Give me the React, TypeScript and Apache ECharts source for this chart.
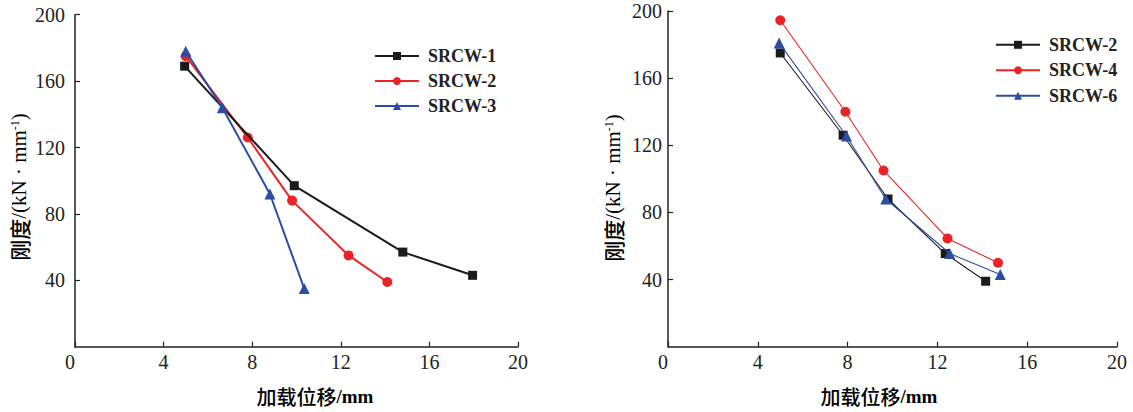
import React, { useEffect, useRef } from "react";
import * as echarts from "echarts";

// ---- data ----
const xTickLabels = ["0", "4", "8", "12", "16", "20"];
const yTickLabels = ["0", "40", "80", "120", "160", "200"];

const leftNames = ["SRCW-1", "SRCW-2", "SRCW-3"];
const srcw1L: number[][] = [[4.95, 169], [9.9, 97], [14.8, 57], [17.95, 43]];
const srcw2L: number[][] = [[5.0, 175], [7.8, 126], [9.8, 88], [12.35, 55], [14.1, 39]];
const srcw3L: number[][] = [[5.0, 178], [6.65, 144], [8.8, 92], [10.35, 35]];

const rightNames = ["SRCW-2", "SRCW-4", "SRCW-6"];
const srcw2R: number[][] = [[5.0, 175], [7.8, 126], [9.8, 88], [12.35, 55.5], [14.15, 39]];
const srcw4R: number[][] = [[5.0, 194.5], [7.9, 140], [9.6, 105], [12.45, 64.5], [14.7, 50]];
const srcw6R: number[][] = [[4.95, 181], [7.95, 125.5], [9.7, 88], [12.55, 55.5], [14.8, 43]];

const BLACK = "#1b1b1b";
const RED = "#ec2227";
const BLUE = "#2c4da3";
const SERIF = '"Liberation Serif", "Times New Roman", serif';
const CJK = '"Noto Sans CJK SC", "Liberation Serif", serif';

function xAxisCfg() {
  return {
    type: "value",
    min: 0,
    max: 20,
    interval: 4,
    axisLine: { show: true, onZero: false, lineStyle: { color: "#222", width: 1.5 } },
    axisTick: { show: true, inside: true, length: 5, lineStyle: { color: "#222", width: 1.2 } },
    splitLine: { show: false },
    axisLabel: {
      margin: 5,
      fontFamily: SERIF,
      fontSize: 20,
      color: "#222",
      alignMinLabel: "right",
      formatter: (v: number) => xTickLabels[Math.round(v / 4)] ?? String(v),
    },
  };
}

function yAxisCfg(margin: number) {
  return {
    type: "value",
    min: 0,
    max: 200,
    interval: 40,
    axisLine: { show: true, onZero: false, lineStyle: { color: "#222", width: 1.5 } },
    axisTick: { show: true, inside: true, length: 5, lineStyle: { color: "#222", width: 1.2 } },
    splitLine: { show: false },
    axisLabel: {
      margin,
      showMinLabel: false,
      fontFamily: SERIF,
      fontSize: 20,
      color: "#222",
      formatter: (v: number) => yTickLabels[Math.round(v / 40)] ?? String(v),
    },
  };
}

function line(name: string, data: number[][], color: string, symbol: string, size: number, width: number, z: number) {
  return {
    type: "line",
    name,
    data,
    symbol,
    symbolSize: size,
    showSymbol: true,
    lineStyle: { color, width },
    itemStyle: { color },
    z,
  };
}

function nameGraphics(xx: number, xy: number, yx: number, yy: number) {
  return [
    {
      type: "text",
      x: xx,
      y: xy,
      style: {
        text: "{c|加载位移}{l|/mm}",
        align: "center",
        verticalAlign: "middle",
        rich: {
          c: { fontFamily: CJK, fontSize: 20, fontWeight: 500, color: "#222" },
          l: { fontFamily: SERIF, fontSize: 19, fontWeight: "bold", color: "#222" },
        },
      },
    },
    {
      type: "text",
      x: yx,
      y: yy,
      rotation: Math.PI / 2,
      style: {
        text: "{c|刚度}{a|/(kN · mm}{s|-1}{a|)}",
        align: "center",
        verticalAlign: "middle",
        rich: {
          c: { fontFamily: CJK, fontSize: 21, fontWeight: 500, color: "#222" },
          a: { fontFamily: SERIF, fontSize: 21, color: "#222" },
          s: { fontFamily: SERIF, fontSize: 12, color: "#222", verticalAlign: "top" },
        },
      },
    },
  ];
}

function legendCfg(names: string[], left: number, top: number, gap: number) {
  return {
    orient: "vertical",
    left,
    top,
    padding: 0,
    itemWidth: 44,
    itemHeight: 10,
    itemGap: gap,
    textStyle: {
      fontFamily: SERIF,
      fontSize: 18,
      fontWeight: "bold",
      color: "#222",
      lineHeight: 17,
      padding: [0, 0, 0, 4],
    },
    data: names,
  };
}

export default function App() {
  const leftRef = useRef<HTMLDivElement>(null);
  const rightRef = useRef<HTMLDivElement>(null);

  useEffect(() => {
    document.body.style.margin = "0";
    const lc = echarts.init(leftRef.current!, null, { renderer: "svg" });
    const rc = echarts.init(rightRef.current!, null, { renderer: "svg" });

    lc.setOption({
      animation: false,
      backgroundColor: "#fff",
      grid: { left: 75, right: 48, top: 14.7, bottom: 65.3, containLabel: false },
      xAxis: xAxisCfg(),
      yAxis: yAxisCfg(10),
      legend: legendCfg(leftNames, 374, 47, 7),
      series: [
        line(leftNames[0], srcw1L, BLACK, "rect", 9, 2, 3),
        line(leftNames[1], srcw2L, RED, "circle", 10, 2, 2),
        line(leftNames[2], srcw3L, BLUE, "triangle", 11, 2, 4),
      ],
      graphic: nameGraphics(315, 396, 19, 187),
    });

    rc.setOption({
      animation: false,
      backgroundColor: "#fff",
      grid: { left: 102, right: 16, top: 11, bottom: 65.3, containLabel: false },
      xAxis: xAxisCfg(),
      yAxis: yAxisCfg(6),
      legend: legendCfg(rightNames, 429, 35.8, 7.5),
      series: [
        line(rightNames[0], srcw2R, BLACK, "rect", 9, 1.1, 2),
        line(rightNames[1], srcw4R, RED, "circle", 10, 1.1, 3),
        line(rightNames[2], srcw6R, BLUE, "triangle", 11, 1.1, 4),
      ],
      graphic: nameGraphics(313, 396, 47, 188),
    });

    return () => {
      lc.dispose();
      rc.dispose();
    };
  }, []);

  return (
    <div style={{ position: "relative", width: 1133, height: 412, background: "#fff" }}>
      <div ref={leftRef} style={{ position: "absolute", left: 0, top: 0, width: 566, height: 412 }} />
      <div ref={rightRef} style={{ position: "absolute", left: 566, top: 0, width: 567, height: 412 }} />
    </div>
  );
}
